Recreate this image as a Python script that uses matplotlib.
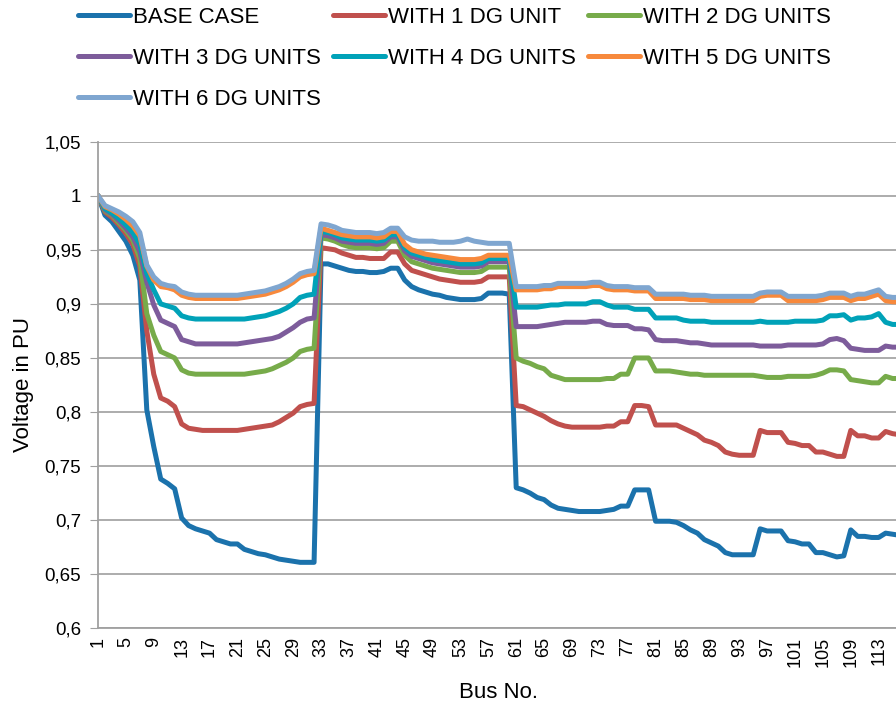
import numpy as np
import matplotlib
matplotlib.use("Agg")
import matplotlib.pyplot as plt
from matplotlib.ticker import FuncFormatter

plt.rcParams['font.family'] = ['Liberation Sans', 'DejaVu Sans']

buses = np.arange(1, 119)

base_case = [
    1.000, 0.982, 0.976, 0.967, 0.958, 0.945, 0.922, 0.802, 0.768, 0.738,
    0.734, 0.729, 0.702, 0.695, 0.692, 0.690, 0.688, 0.682, 0.680, 0.678,
    0.678, 0.673, 0.671, 0.669, 0.668, 0.666, 0.664, 0.663, 0.662, 0.661,
    0.661, 0.661, 0.937, 0.937, 0.935, 0.933, 0.931, 0.930, 0.930, 0.929,
    0.929, 0.930, 0.933, 0.933, 0.922, 0.916, 0.913, 0.911, 0.909, 0.908,
    0.906, 0.905, 0.904, 0.904, 0.904, 0.905, 0.910, 0.910, 0.910, 0.909,
    0.730, 0.728, 0.725, 0.721, 0.719, 0.714, 0.711, 0.710, 0.709, 0.708,
    0.708, 0.708, 0.708, 0.709, 0.710, 0.713, 0.713, 0.728, 0.728, 0.728,
    0.699, 0.699, 0.699, 0.698, 0.695, 0.691, 0.688, 0.682, 0.679, 0.676,
    0.670, 0.668, 0.668, 0.668, 0.668, 0.692, 0.690, 0.690, 0.690, 0.681,
    0.680, 0.678, 0.678, 0.670, 0.670, 0.668, 0.666, 0.667, 0.691, 0.685,
    0.685, 0.684, 0.684, 0.688, 0.687, 0.686, 0.686, 0.686,
]

dg1 = [
    1.000, 0.985, 0.980, 0.973, 0.965, 0.955, 0.935, 0.875, 0.835, 0.813,
    0.810, 0.805, 0.789, 0.785, 0.784, 0.783, 0.783, 0.783, 0.783, 0.783,
    0.783, 0.784, 0.785, 0.786, 0.787, 0.788, 0.791, 0.795, 0.799, 0.805,
    0.807, 0.808, 0.952, 0.951, 0.950, 0.947, 0.945, 0.943, 0.943, 0.942,
    0.942, 0.942, 0.948, 0.948, 0.937, 0.931, 0.929, 0.927, 0.925, 0.923,
    0.922, 0.921, 0.920, 0.920, 0.920, 0.921, 0.925, 0.925, 0.925, 0.925,
    0.806, 0.805, 0.802, 0.799, 0.796, 0.792, 0.789, 0.787, 0.786, 0.786,
    0.786, 0.786, 0.786, 0.787, 0.787, 0.791, 0.791, 0.806, 0.806, 0.805,
    0.788, 0.788, 0.788, 0.788, 0.785, 0.782, 0.779, 0.774, 0.772, 0.769,
    0.763, 0.761, 0.760, 0.760, 0.760, 0.783, 0.781, 0.781, 0.781, 0.772,
    0.771, 0.769, 0.769, 0.763, 0.763, 0.761, 0.759, 0.759, 0.783, 0.778,
    0.778, 0.776, 0.776, 0.782, 0.780, 0.779, 0.779, 0.779,
]

dg2 = [
    1.000, 0.986, 0.982, 0.975, 0.968, 0.959, 0.942, 0.891, 0.871, 0.856,
    0.853, 0.850, 0.839, 0.836, 0.835, 0.835, 0.835, 0.835, 0.835, 0.835,
    0.835, 0.835, 0.836, 0.837, 0.838, 0.840, 0.843, 0.846, 0.850, 0.856,
    0.858, 0.859, 0.961, 0.960, 0.958, 0.955, 0.953, 0.952, 0.952, 0.952,
    0.951, 0.952, 0.958, 0.958, 0.945, 0.939, 0.937, 0.935, 0.933, 0.932,
    0.931, 0.930, 0.929, 0.929, 0.929, 0.930, 0.934, 0.934, 0.934, 0.934,
    0.850, 0.847, 0.845, 0.842, 0.840, 0.834, 0.832, 0.830, 0.830, 0.830,
    0.830, 0.830, 0.830, 0.831, 0.831, 0.835, 0.835, 0.850, 0.850, 0.850,
    0.838, 0.838, 0.838, 0.837, 0.836, 0.835, 0.835, 0.834, 0.834, 0.834,
    0.834, 0.834, 0.834, 0.834, 0.834, 0.833, 0.832, 0.832, 0.832, 0.833,
    0.833, 0.833, 0.833, 0.834, 0.836, 0.839, 0.839, 0.838, 0.830, 0.829,
    0.828, 0.827, 0.827, 0.833, 0.831, 0.831, 0.831, 0.831,
]

dg3 = [
    1.000, 0.987, 0.983, 0.977, 0.970, 0.962, 0.948, 0.920, 0.899, 0.885,
    0.882, 0.879, 0.867, 0.865, 0.863, 0.863, 0.863, 0.863, 0.863, 0.863,
    0.863, 0.864, 0.865, 0.866, 0.867, 0.868, 0.870, 0.874, 0.878, 0.883,
    0.886, 0.887, 0.964, 0.963, 0.961, 0.958, 0.957, 0.956, 0.956, 0.956,
    0.955, 0.956, 0.962, 0.962, 0.949, 0.944, 0.942, 0.940, 0.938, 0.937,
    0.936, 0.935, 0.934, 0.934, 0.934, 0.935, 0.939, 0.939, 0.939, 0.939,
    0.879, 0.879, 0.879, 0.879, 0.880, 0.881, 0.882, 0.883, 0.883, 0.883,
    0.883, 0.884, 0.884, 0.881, 0.880, 0.880, 0.880, 0.877, 0.877, 0.876,
    0.867, 0.866, 0.866, 0.866, 0.865, 0.864, 0.864, 0.863, 0.862, 0.862,
    0.862, 0.862, 0.862, 0.862, 0.862, 0.861, 0.861, 0.861, 0.861, 0.862,
    0.862, 0.862, 0.862, 0.862, 0.863, 0.867, 0.868, 0.866, 0.859, 0.858,
    0.857, 0.857, 0.857, 0.861, 0.860, 0.860, 0.860, 0.860,
]

dg4 = [
    1.000, 0.988, 0.984, 0.979, 0.973, 0.966, 0.955, 0.928, 0.913, 0.900,
    0.898, 0.896, 0.889, 0.887, 0.886, 0.886, 0.886, 0.886, 0.886, 0.886,
    0.886, 0.886, 0.887, 0.888, 0.889, 0.891, 0.893, 0.896, 0.900, 0.906,
    0.908, 0.909, 0.967, 0.966, 0.964, 0.961, 0.960, 0.959, 0.959, 0.959,
    0.958, 0.959, 0.964, 0.964, 0.952, 0.947, 0.945, 0.943, 0.941, 0.940,
    0.939, 0.938, 0.937, 0.937, 0.937, 0.938, 0.942, 0.942, 0.942, 0.942,
    0.897, 0.897, 0.897, 0.897, 0.898, 0.899, 0.899, 0.900, 0.900, 0.900,
    0.900, 0.902, 0.902, 0.899, 0.897, 0.897, 0.897, 0.895, 0.895, 0.895,
    0.887, 0.887, 0.887, 0.887, 0.885, 0.884, 0.884, 0.884, 0.883, 0.883,
    0.883, 0.883, 0.883, 0.883, 0.883, 0.884, 0.883, 0.883, 0.883, 0.883,
    0.884, 0.884, 0.884, 0.884, 0.885, 0.889, 0.889, 0.890, 0.885, 0.887,
    0.887, 0.888, 0.891, 0.883, 0.881, 0.881, 0.881, 0.881,
]

dg5 = [
    1.000, 0.990, 0.987, 0.983, 0.978, 0.972, 0.963, 0.935, 0.922, 0.916,
    0.915, 0.913, 0.908, 0.906, 0.905, 0.905, 0.905, 0.905, 0.905, 0.905,
    0.905, 0.906, 0.907, 0.908, 0.909, 0.911, 0.913, 0.916, 0.920, 0.925,
    0.927, 0.928, 0.970, 0.968, 0.966, 0.964, 0.963, 0.962, 0.962, 0.962,
    0.961, 0.962, 0.967, 0.967, 0.955, 0.950, 0.948, 0.946, 0.945, 0.944,
    0.943, 0.942, 0.941, 0.941, 0.941, 0.942, 0.945, 0.945, 0.945, 0.945,
    0.913, 0.913, 0.913, 0.913, 0.914, 0.914, 0.916, 0.916, 0.916, 0.916,
    0.916, 0.917, 0.917, 0.914, 0.913, 0.913, 0.913, 0.912, 0.912, 0.912,
    0.905, 0.905, 0.905, 0.905, 0.905, 0.904, 0.904, 0.904, 0.903, 0.903,
    0.903, 0.903, 0.903, 0.903, 0.903, 0.907, 0.908, 0.908, 0.908, 0.903,
    0.903, 0.903, 0.903, 0.903, 0.904, 0.906, 0.906, 0.906, 0.903, 0.905,
    0.905, 0.907, 0.909, 0.903, 0.902, 0.902, 0.902, 0.902,
]

dg6 = [
    1.000, 0.991, 0.988, 0.985, 0.981, 0.976, 0.966, 0.936, 0.925, 0.919,
    0.917, 0.916, 0.911, 0.909, 0.908, 0.908, 0.908, 0.908, 0.908, 0.908,
    0.908, 0.909, 0.910, 0.911, 0.912, 0.914, 0.916, 0.919, 0.923, 0.928,
    0.930, 0.931, 0.974, 0.973, 0.971, 0.968, 0.967, 0.966, 0.966, 0.966,
    0.965, 0.966, 0.970, 0.970, 0.962, 0.959, 0.958, 0.958, 0.958, 0.957,
    0.957, 0.957, 0.958, 0.960, 0.958, 0.957, 0.956, 0.956, 0.956, 0.956,
    0.916, 0.916, 0.916, 0.916, 0.917, 0.917, 0.919, 0.919, 0.919, 0.919,
    0.919, 0.920, 0.920, 0.917, 0.916, 0.916, 0.916, 0.915, 0.915, 0.915,
    0.909, 0.909, 0.909, 0.909, 0.909, 0.908, 0.908, 0.908, 0.907, 0.907,
    0.907, 0.907, 0.907, 0.907, 0.907, 0.910, 0.911, 0.911, 0.911, 0.907,
    0.907, 0.907, 0.907, 0.907, 0.908, 0.910, 0.910, 0.910, 0.907, 0.909,
    0.909, 0.911, 0.913, 0.907, 0.906, 0.906, 0.906, 0.906,
]

labels = ['BASE CASE', 'WITH 1 DG UNIT', 'WITH 2 DG UNITS', 'WITH 3 DG UNITS',
          'WITH 4 DG UNITS', 'WITH 5 DG UNITS', 'WITH 6 DG UNITS']
series = [base_case, dg1, dg2, dg3, dg4, dg5, dg6]
colors = ['#1B72AC', '#C0504D', '#77AB4A', '#7D5C9B', '#00A2B8', '#F7893C', '#7FA6D0']

fig = plt.figure(figsize=(8.96, 7.06), dpi=100)
# plot area runs past the right edge, as in the cropped original
ax = fig.add_axes([98/896, 77.7/706, 815.5/896, 486.6/706])

lines = []
for vals, lab, col in zip(series, labels, colors):
    ln, = ax.plot(buses, vals, color=col, lw=3.6, label=lab, solid_capstyle='round')
    lines.append(ln)

ax.set_xlim(1, 118)
ax.set_ylim(0.6, 1.05)
ax.set_yticks(np.arange(0.6, 1.051, 0.05))
ax.yaxis.set_major_formatter(FuncFormatter(lambda v, p: f'{v:g}'.replace('.', ',')))
ax.set_xticks(np.arange(1, 114, 4))
ax.tick_params(axis='x', rotation=90, length=0, labelsize=13, pad=6)
ax.tick_params(axis='y', length=6, color='#A0A0A0', labelsize=13.5, pad=6)
ax.grid(axis='y', color='#A6A6A6', lw=1.3)
ax.set_axisbelow(True)
for s in ['top', 'right']:
    ax.spines[s].set_visible(False)
for s in ['left', 'bottom']:
    ax.spines[s].set_color('#A0A0A0')
    ax.spines[s].set_linewidth(1.3)

ax.set_ylabel('Voltage in PU', fontsize=16, labelpad=8)
fig.text(498/896, 1 - 693/706, 'Bus No.', fontsize=16, ha='center', va='center')

# legend filled column-wise, reordered so it reads row by row
order = [0, 3, 6, 1, 4, 2, 5]
fig.legend([lines[i] for i in order], [labels[i] for i in order],
           ncol=3, loc='upper left', bbox_to_anchor=(78/896, 1 - 7/706),
           frameon=False, fontsize=16, handlelength=2.34, handletextpad=0.14,
           columnspacing=0.54, labelspacing=0.9, borderpad=0, borderaxespad=0)

fig.savefig('out.png', dpi=100)
